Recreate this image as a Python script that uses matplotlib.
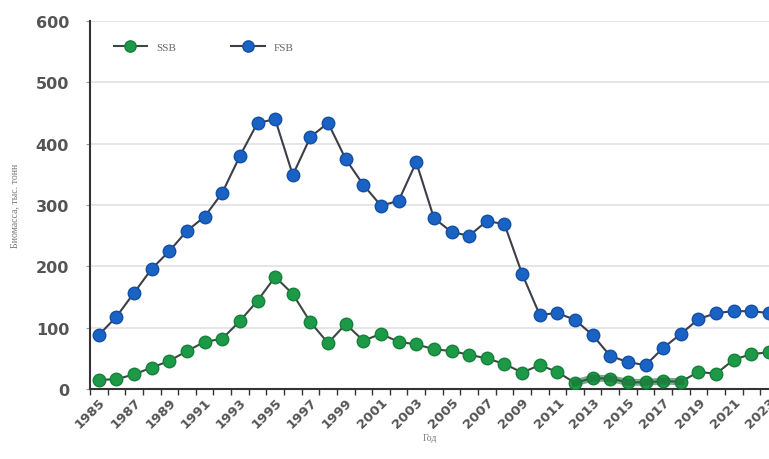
import matplotlib.pyplot as plt
import numpy as np

years = list(range(1985, 2024))
fsb = [88, 118, 157, 196, 225, 258, 281, 320, 380, 434,
       440, 349, 411, 434, 375, 333, 299, 307, 370, 279,
       256, 250, 274, 269, 188, 121, 124, 113, 88, 54,
       44, 39, 67, 90, 114, 124, 127, 127, 124]
ssb = [15, 16, 24, 35, 46, 62, 77, 82, 111, 144,
       183, 155, 109, 75, 106, 79, 90, 77, 73, 65,
       62, 56, 50, 41, 27, 39, 28, 10, 18, 17,
       11, 11, 13, 12, 28, 25, 48, 57, 60]

x = np.arange(len(years))

fig = plt.figure(figsize=(7.69, 4.6), dpi=100)
ax = fig.add_axes([0.117, 0.152, 0.883, 0.8])

ax.plot(x, ssb, color="#3a4a40", lw=1.5, marker="o", ms=9,
        mfc="#1d9a48", mec="#15803a", label="SSB", zorder=3)
ax.plot(x, fsb, color="#3c3f4a", lw=1.5, marker="o", ms=9,
        mfc="#1a62c4", mec="#124fa6", label="FSB", zorder=3)
# darker band on the low SSB years
ax.plot(x[27:34], ssb[27:34], color="#1f6e3a", lw=5, alpha=0.6, zorder=4)

ax.set_xlim(-0.5, 37.86)
ax.set_ylim(0, 600)
ax.set_yticks(range(0, 601, 100))
ax.yaxis.grid(True, color="#e2e2e2", lw=1.2)
ax.set_axisbelow(True)

ax.set_xticks(x - 0.5)
ax.set_xticklabels([])
ax.set_xticks(x[::2], minor=True)
ax.set_xticklabels([str(y) for y in years[::2]], minor=True, rotation=45,
                   ha="right", rotation_mode="anchor", fontsize=9.5, color="#555555",
                   fontweight="semibold")
ax.tick_params(axis="x", which="major", length=4, width=1, color="#333333")
ax.tick_params(axis="x", which="minor", length=0, pad=4)
ax.tick_params(axis="y", length=3, color="#999999", labelsize=11.5, labelcolor="#555555", pad=12)
for t in ax.get_yticklabels():
    t.set_fontweight("bold")

for s in ["top", "right"]:
    ax.spines[s].set_visible(False)
ax.spines["left"].set_color("#333333")
ax.spines["left"].set_linewidth(1.5)
ax.spines["bottom"].set_color("#333333")
ax.spines["bottom"].set_linewidth(1.5)

ax.set_ylabel("Биомасса, тыс. тонн", family="Liberation Serif", fontsize=7,
              color="#777777", labelpad=12)
ax.set_xlabel("Год", family="Liberation Serif", fontsize=7, color="#777777", labelpad=2)

ax.legend(loc="upper left", bbox_to_anchor=(0.02, 0.97), ncol=2, frameon=False,
          prop={"family": "Liberation Serif", "size": 8}, labelcolor="#666666",
          handlelength=3.0, columnspacing=5, markerscale=0.9)

fig.savefig("out.png", dpi=100)
